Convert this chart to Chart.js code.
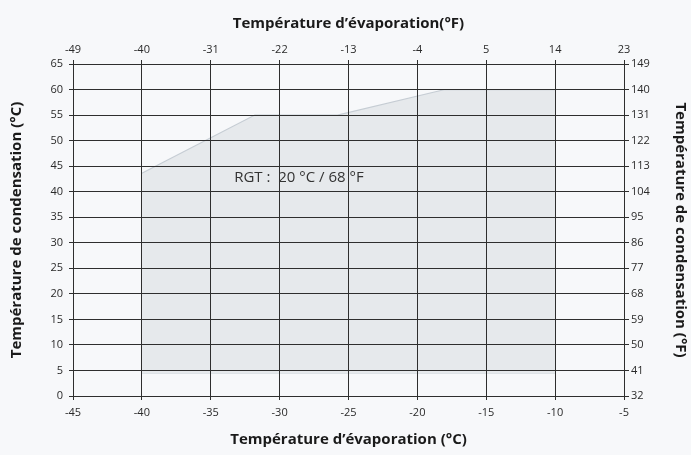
<!DOCTYPE html>
<html>
<head>
<meta charset="utf-8">
<script src="https://cdn.jsdelivr.net/npm/chart.js@4/dist/chart.umd.min.js"></script>
<style>
  html, body { margin: 0; padding: 0; background: #f7f8fa; }
  #wrap { width: 691px; height: 455px; position: relative; }
</style>
</head>
<body>
<div id="wrap"><canvas id="c"></canvas></div>
<script>
// ---- data ----
const evapTicksC = [-45, -40, -35, -30, -25, -20, -15, -10, -5];
const evapTicksF = [-49, -40, -31, -22, -13, -4, 5, 14, 23];
const condTicksC = [0, 5, 10, 15, 20, 25, 30, 35, 40, 45, 50, 55, 60, 65];
const condTicksF = [32, 41, 50, 59, 68, 77, 86, 95, 104, 113, 122, 131, 140, 149];

const upperEvapC = [-40, -31.8, -25.8, -18, -10];
const upperCondC = [43.6, 55, 55, 60, 60];
const lowerEvapC = [-40, -10];
const lowerCondC = [4.5, 4.5];

const noteText = 'RGT :  20 °C / 68 °F';
const noteEvapC = -28.6;
const noteCondC = 42.7;

const titleTop = 'Température d’évaporation(°F)';
const titleBottom = 'Température d’évaporation (°C)';
const titleLeft = 'Température de condensation (°C)';
const titleRight = 'Température de condensation (°F)';

// ---- styles ----
const FONT = "'Open Sans', 'Noto Sans', sans-serif";
const gridColor = '#2e2e2e';
const tickFont = { family: FONT, size: 11 };
const titleFont = { family: FONT, size: 15, weight: 'bold' };
const tickColor = '#2a2a2a';
const titleColor = '#1a1a1a';

function pts(xs, ys) { return xs.map((x, i) => ({ x: x, y: ys[i] })); }
function fixedTicks(arr) { return function (scale) { scale.ticks = arr.map(v => ({ value: v })); }; }

const notePlugin = {
  id: 'note',
  afterDraw(chart) {
    const ctx = chart.ctx;
    const x = chart.scales.x.getPixelForValue(noteEvapC);
    const y = chart.scales.y.getPixelForValue(noteCondC);
    ctx.save();
    ctx.font = "15px " + FONT;
    ctx.fillStyle = '#333';
    ctx.textAlign = 'center';
    ctx.textBaseline = 'middle';
    ctx.fillText(noteText, x, y);
    ctx.restore();
  }
};

new Chart(document.getElementById('c'), {
  type: 'scatter',
  data: {
    datasets: [
      {
        data: pts(upperEvapC, upperCondC),
        showLine: true,
        borderColor: '#c6cdd4',
        borderWidth: 1.2,
        backgroundColor: '#e6e9ec',
        pointRadius: 0,
        fill: '+1',
        tension: 0
      },
      {
        data: pts(lowerEvapC, lowerCondC),
        showLine: true,
        borderColor: '#c6cdd4',
        borderWidth: 1.2,
        pointRadius: 0,
        fill: false
      }
    ]
  },
  options: {
    responsive: true,
    maintainAspectRatio: false,
    animation: false,
    layout: { padding: 0 },
    plugins: { legend: { display: false }, tooltip: { enabled: false } },
    scales: {
      x: {
        type: 'linear', position: 'bottom', min: -45, max: -5,
        afterBuildTicks: fixedTicks(evapTicksC),
        afterFit(s) { s.height = 59; },
        grid: { z: 1, color: gridColor, lineWidth: 1, tickLength: 4, drawTicks: true },
        border: { z: 1, color: gridColor, width: 1 },
        ticks: { z: 1, font: tickFont, color: tickColor, padding: 6, maxRotation: 0 },
        title: { display: true, text: titleBottom, font: titleFont, color: titleColor, padding: { top: 0, bottom: 6 } }
      },
      xTop: {
        type: 'linear', position: 'top', min: -49, max: 23,
        afterBuildTicks: fixedTicks(evapTicksF),
        afterFit(s) { s.height = 64; },
        grid: { z: 1, color: gridColor, lineWidth: 1, tickLength: 4, drawOnChartArea: false },
        border: { z: 1, color: gridColor, width: 1 },
        ticks: { z: 1, font: tickFont, color: tickColor, padding: 4, maxRotation: 0 },
        title: { display: true, text: titleTop, font: titleFont, color: titleColor, padding: { top: 15, bottom: 0 } }
      },
      y: {
        type: 'linear', position: 'left', min: 0, max: 65,
        afterBuildTicks: fixedTicks(condTicksC),
        afterFit(s) { s.width = 73; },
        grid: { z: 1, color: gridColor, lineWidth: 1, tickLength: 4 },
        border: { z: 1, color: gridColor, width: 1 },
        ticks: { z: 1, font: tickFont, color: tickColor, padding: 6 },
        title: { display: true, text: titleLeft, font: titleFont, color: titleColor, padding: { top: 8, bottom: 0 } }
      },
      yRight: {
        type: 'linear', position: 'right', min: 32, max: 149,
        afterBuildTicks: fixedTicks(condTicksF),
        afterFit(s) { s.width = 67; },
        grid: { z: 1, color: gridColor, lineWidth: 1, tickLength: 5, drawOnChartArea: false },
        border: { z: 1, color: gridColor, width: 1 },
        ticks: { z: 1, font: tickFont, color: tickColor, padding: 2 },
        title: { display: true, text: titleRight, font: titleFont, color: titleColor, padding: { top: 2, bottom: 0 } }
      }
    }
  },
  plugins: [notePlugin]
});
</script>
</body>
</html>
